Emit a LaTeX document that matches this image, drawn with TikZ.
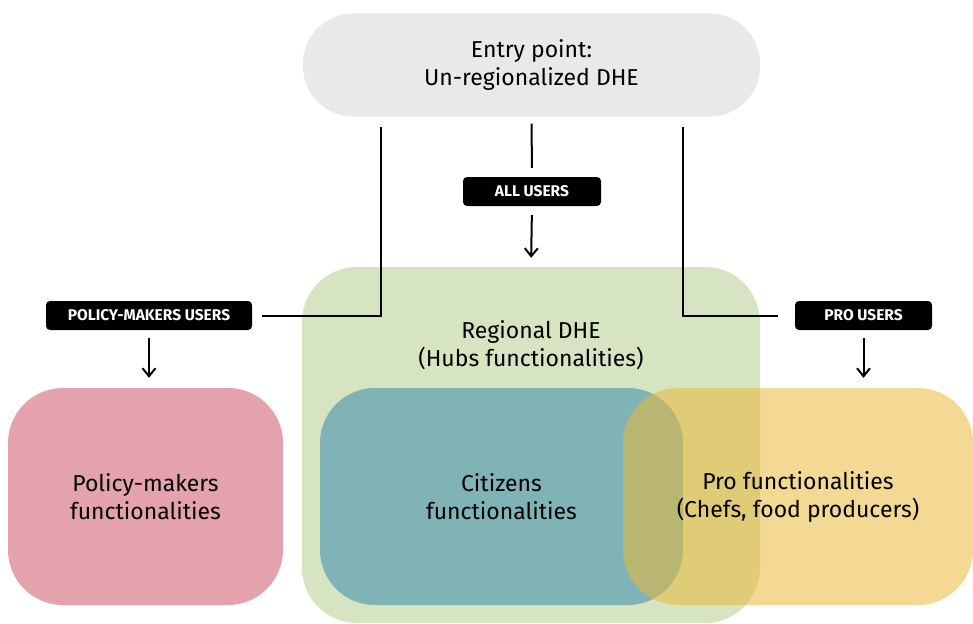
\documentclass[tikz,border=0pt]{standalone}
\usepackage{fontspec}
\setmainfont{Fira Sans}
\usetikzlibrary{arrows.meta}
\definecolor{entrygray}{HTML}{E9E9E9}
\definecolor{regiongreen}{HTML}{D6E4C2}
\definecolor{policypink}{HTML}{E4A3AC}
\definecolor{citizenteal}{HTML}{80B3B5}
\definecolor{proyellow}{HTML}{E9BA3B}

\begin{document}
\begin{tikzpicture}[x=1pt, y=-1pt,
    area/.style={rounded corners=55pt, align=center, inner sep=0pt,
        font=\fontsize{23}{28}\selectfont},
    userlabel/.style={fill=black, text=white, rounded corners=4pt,
        minimum height=29pt, inner sep=0pt, font=\bfseries\fontsize{15.5}{16}\selectfont},
    link/.style={line width=2pt},
    flow/.style={line width=2pt, -{Straight Barb[length=8pt, width=13pt, line width=2pt]}}]
    \useasboundingbox (0,0) rectangle (973,623);

    \node[area, fill=entrygray, minimum width=457pt, minimum height=103pt, rounded corners=50pt] (entry) at (531.5,65) {Entry point:\\Un-regionalized DHE};

    \node[area, fill=regiongreen, minimum width=458pt, minimum height=356pt] (region) at (531,445) {};
    \node[align=center, font=\fontsize{23}{28}\selectfont] (regtxt) at (531,345) {Regional DHE\\(Hubs functionalities)};

    \node[area, fill=policypink, minimum width=275pt, minimum height=217pt] (policy) at (145.5,496.5) {Policy-makers\\functionalities};
    \node[area, fill=citizenteal, minimum width=363pt, minimum height=217pt] (citizen) at (501.5,496.5) {Citizens\\functionalities};
    \node[area, fill=proyellow, fill opacity=0.55, text opacity=1, minimum width=350pt, minimum height=217pt] (pro) at (798,496.5) {Pro functionalities\\(Chefs, food producers)};

    \node[userlabel, minimum width=138pt] (alllab) at (532,191.5) {ALL USERS};
    \node[userlabel, minimum width=206pt] (pmlab) at (149,315.5) {POLICY-MAKERS USERS};
    \node[userlabel, minimum width=137pt] (prolab) at (863.5,315.5) {PRO USERS};

    \draw[link, shorten <=7pt, shorten >=9pt] (entry.south) -- (alllab.north);
    \draw[flow, shorten <=9pt, shorten >=9pt] (alllab.south) -- (region.north);
    \draw[link, shorten <=10pt, shorten >=10pt] ([xshift=-150.5pt]entry.south) |- (pmlab.east);
    \draw[link, shorten <=10pt, shorten >=17pt] ([xshift=151.5pt]entry.south) |- (prolab.west);
    \draw[flow, shorten <=8pt, shorten >=10pt] (pmlab.south) -- (pmlab.south |- policy.north);
    \draw[flow, shorten <=8pt, shorten >=10pt] (prolab.south) -- (prolab.south |- pro.north);
\end{tikzpicture}
\end{document}
